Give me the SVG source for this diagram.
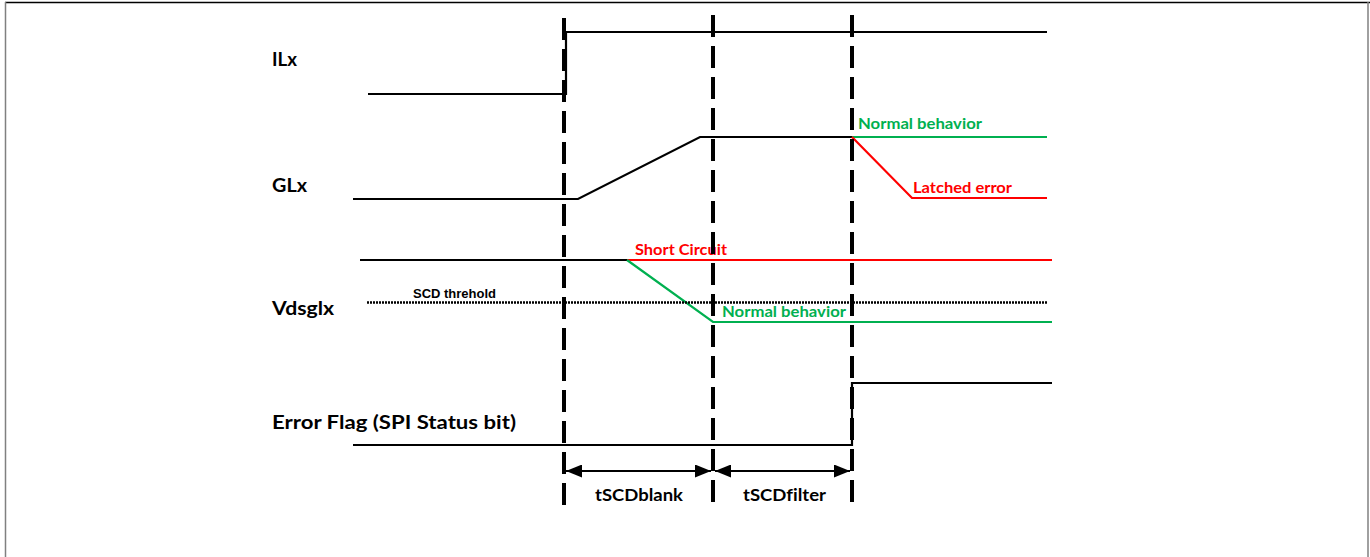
<svg xmlns="http://www.w3.org/2000/svg" width="1370" height="557" viewBox="0 0 1370 557">
<style>
text{font-variant-ligatures:none}
.lbl{font-family:Lato,"Liberation Sans",sans-serif;font-weight:bold;font-size:19.5px;fill:#000}
.sm{font-family:Lato,"Liberation Sans",sans-serif;font-weight:bold;font-size:15.5px}
.dm{font-family:Lato,"Liberation Sans",sans-serif;font-weight:bold;font-size:17px;fill:#000}
.sig{fill:none;stroke:#000;stroke-width:2.2}
.g{fill:none;stroke:#00B050;stroke-width:2.2}
.r{fill:none;stroke:#FF0000;stroke-width:2.2}
.dash{fill:none;stroke:#000;stroke-width:4;stroke-dasharray:22 9}
</style>
<defs>
<marker id="ah" viewBox="0 0 16 13" refX="16" refY="6.5" markerWidth="16" markerHeight="13" markerUnits="userSpaceOnUse" orient="auto-start-reverse">
<path d="M0,0 L16,6.5 L0,13 Z" fill="#000"/>
</marker>
</defs>
<rect width="1370" height="557" fill="#fff"/>
<g id="frame">
<line x1="5" y1="2.5" x2="1370" y2="2.5" stroke="#000" stroke-width="1.5"/>
<line x1="5.5" y1="2" x2="5.5" y2="557" stroke="#808080" stroke-width="1.5"/>
<line x1="1368" y1="2" x2="1368" y2="557" stroke="#808080" stroke-width="1.5"/>
</g>
<g id="labels">
<text class="lbl" x="272" y="66" textLength="25" lengthAdjust="spacingAndGlyphs">ILx</text>
<text class="lbl" x="272" y="192" textLength="35" lengthAdjust="spacingAndGlyphs">GLx</text>
<text class="lbl" x="272" y="315" textLength="62" lengthAdjust="spacingAndGlyphs">Vdsglx</text>
<text class="lbl" x="272" y="429" textLength="244" lengthAdjust="spacingAndGlyphs">Error Flag (SPI Status bit)</text>
</g>
<g id="ILx">
<path class="sig" d="M368,94 H566 V32 H1047"/>
</g>
<g id="GLx">
<path class="sig" d="M353,199 H578 L700,137 H852"/>
<path class="g" d="M852,137 H1047"/>
<path class="r" d="M852,137 L912,198 H1047"/>
<text class="sm" x="858" y="129" fill="#00B050" textLength="124" lengthAdjust="spacingAndGlyphs">Normal behavior</text>
<text class="sm" x="913" y="193" fill="#FF0000" textLength="99" lengthAdjust="spacingAndGlyphs">Latched error</text>
</g>
<g id="Vdsglx">
<path class="sig" d="M360,260 H627"/>
<path class="r" d="M627,260 H1052"/>
<path class="g" d="M627,260 L713,322 H1052"/>
<line x1="367" y1="302.5" x2="1047" y2="302.5" stroke="#000" stroke-width="2.5" stroke-dasharray="2 1"/>
<text x="413" y="298" font-family="'Liberation Sans',Arial,sans-serif" font-weight="bold" font-size="12" textLength="83" lengthAdjust="spacingAndGlyphs">SCD threhold</text>
<text class="sm" x="635" y="255" fill="#FF0000" textLength="92" lengthAdjust="spacingAndGlyphs">Short Circuit</text>
<text class="sm" x="722" y="317" fill="#00B050" textLength="124" lengthAdjust="spacingAndGlyphs">Normal behavior</text>
</g>
<g id="ErrorFlag">
<path class="sig" d="M353,445 H852 V383 H1052"/>
</g>
<g id="connectors">
<line class="dash" x1="564" y1="18" x2="564" y2="508"/>
<line class="dash" x1="713" y1="15" x2="713" y2="508"/>
<line class="dash" x1="852" y1="15" x2="852" y2="508"/>
<line x1="566" y1="471" x2="711" y2="471" stroke="#000" stroke-width="2.2" marker-start="url(#ah)" marker-end="url(#ah)"/>
<line x1="715" y1="471" x2="850" y2="471" stroke="#000" stroke-width="2.2" marker-start="url(#ah)" marker-end="url(#ah)"/>
</g>
<g id="dims">
<text class="dm" x="595" y="501" textLength="88" lengthAdjust="spacingAndGlyphs">tSCDblank</text>
<text class="dm" x="743" y="501" textLength="83" lengthAdjust="spacingAndGlyphs">tSCDfilter</text>
</g>
</svg>
